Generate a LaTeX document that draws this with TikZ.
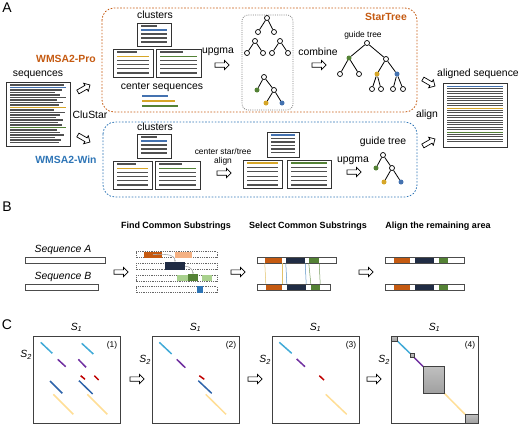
\documentclass[tikz,border=0pt]{standalone}
\usepackage{fontspec}
\setmainfont{Liberation Sans}
\usetikzlibrary{shapes.arrows, arrows.meta}

\definecolor{proorange}{RGB}{197,90,17}
\definecolor{winblue}{RGB}{46,117,182}
\definecolor{seqblue}{RGB}{68,114,176}
\definecolor{seqyellow}{RGB}{214,166,40}
\definecolor{seqgreen}{RGB}{84,130,53}
\definecolor{seqgray}{RGB}{80,80,80}
\definecolor{lightorange}{RGB}{244,177,131}
\definecolor{navy}{RGB}{32,44,68}
\definecolor{lightgreen}{RGB}{169,209,142}
\definecolor{dotcyan}{RGB}{65,170,215}
\definecolor{dotpurple}{RGB}{112,48,160}
\definecolor{dotred}{RGB}{192,0,0}
\definecolor{dotblue}{RGB}{46,100,170}
\definecolor{dotyellow}{RGB}{255,222,150}

\tikzset{
  lbl/.style={font=\fontsize{10.4}{12}\selectfont, inner sep=0pt},
  smalllbl/.style={font=\fontsize{8.4}{10}\selectfont, inner sep=0pt},
  headlbl/.style={font=\fontsize{9}{11}\selectfont\bfseries, inner sep=0pt},
  panellbl/.style={font=\fontsize{14}{16}\selectfont, inner sep=0pt},
  fatarrow/.style={single arrow, draw=black, line width=0.7pt, fill=white,
    minimum height=14pt, inner xsep=0pt, inner ysep=1.8pt, single arrow head extend=2.5pt},
  docbox/.style={draw=black!80, line width=0.8pt, fill=white},
  seqline/.style={seqgray, line width=1.1pt},
  dashbox/.style={rounded corners=12pt, line width=0.8pt, dash pattern=on 1.6pt off 1.6pt},
  tnode/.style={circle, draw=black, line width=0.7pt, fill=white, minimum size=5pt, inner sep=0pt},
  cnode/.style={circle, minimum size=5pt, inner sep=0pt},
  tedge/.style={line width=0.8pt},
  blk/.style={rectangle, inner sep=0pt, minimum height=6pt},
  barbox/.style={draw=black!70, line width=0.8pt},
  lnk/.style={line width=0.5pt},
  dotbox/.style={draw=black!75, line width=1pt},
  seg/.style={line width=1.5pt},
  cellsq/.style={draw=black!75, line width=0.7pt, top color=gray!50, bottom color=gray!75}
}

\begin{document}
\begin{tikzpicture}[x=1pt,y=-1pt]
  \useasboundingbox (0,0) rectangle (520,424);

  % Paneles
  \node[panellbl] (pa) at (7,8) {A};
  \node[panellbl] (pb) at (7,207) {B};
  \node[panellbl] (pc) at (7,325) {C};

  % Cajas de StarTree y WMSA2-Win
  \draw[dashbox, proorange] (102,8) rectangle (417,112);
  \draw[dashbox, winblue] (103,122) rectangle (417,197);
  \draw[rounded corners=6pt, gray, line width=0.7pt, dash pattern=on 1pt off 1.2pt] (242,15) rectangle (293,110);
  \node[lbl, font=\fontsize{10.4}{12}\selectfont\bfseries, text=proorange] (star) at (386,17) {StarTree};
  \node[lbl, font=\fontsize{10.4}{12}\selectfont\bfseries, text=proorange] (pro) at (66,59) {WMSA2-Pro};
  \node[lbl, font=\fontsize{10.4}{12}\selectfont\bfseries, text=winblue] (win) at (66,160) {WMSA2-Win};

  % Secuencias de entrada
  \node[lbl] (seqlbl) at (38,75) {sequences};
  \draw[docbox] (6,82) rectangle (70,146);
  \foreach \e [count=\i from 0] in {64,66,62,55,60,66,57,63,59,66,54,65,60,56,63,58,62,66,57,60,64,55,61,59}
    \draw[seqline] (10,85+2.5*\i) -- (\e,85+2.5*\i);
  \draw[seqline, seqblue] (10,87.5) -- (66,87.5);
  \draw[seqline, seqyellow] (10,107.5) -- (66,107.5);
  \draw[seqline, seqgreen] (10,127.5) -- (66,127.5);
  \node[lbl] (clustar) at (90,115) {CluStar};

  % Documentos de clusters
  \foreach \xa/\ya/\xb/\yb/\col/\s/\d/\n in {
      137/23/171/46/seqblue/1/4/3, 113/49/153/77/seqyellow/1/4.2/4, 156/49/201/77/seqgreen/1/4.2/4,
      137/134/171/158/seqblue/1/4/3, 113/161/152/189/seqyellow/1/4.2/4, 155/161/200/189/seqgreen/1/4.2/4,
      267/132/299/157/seqblue/0/3.5/5, 243/160/282/188/seqyellow/0/4.4/5, 287/160/331/188/seqgreen/0/4.4/5} {
    \draw[docbox] (\xa,\ya) rectangle (\xb,\yb);
    \draw[seqline] (\xa+4,\ya+3) -- ({\xb-0.4*(\xb-\xa)},\ya+3);
    \draw[seqline, \col] (\xa+4,\ya+3+\s*\d) -- (\xb-4,\ya+3+\s*\d);
    \foreach \k in {1,...,\n}
      \draw[seqline] (\xa+4,\ya+3+\s*\d+\k*\d) -- (\xb-4,\ya+3+\s*\d+\k*\d);
  }

  % WMSA2-Pro
  \node[lbl] (cluspro) at (155,15) {clusters};
  \node[lbl] (centers) at (162,87) {center sequences};
  \draw[seqline, seqblue] (142,96) -- (168,96);
  \draw[seqline, seqyellow] (142,101) -- (175,101);
  \draw[seqline, seqgreen] (142,106) -- (178,106);
  \node[lbl] (upgmapro) at (218,52) {upgma};
  \node[lbl] (combine) at (318,52) {combine};
  \node[smalllbl] (guidepro) at (363,35) {guide tree};

  % WMSA2-Win
  \node[lbl] (cluswin) at (155,127) {clusters};
  \node[smalllbl] (cstar) at (223,151) {center star/tree};
  \node[smalllbl] (calign) at (223,161) {align};
  \node[lbl] (guidewin) at (383,142) {guide tree};
  \node[lbl] (upgmawin) at (353,161) {upgma};

  % Arboles
  \foreach \nm/\px/\py in {ta0/267/18, ta1/258/32, ta2/274/32, tb0/255/41, tb1/247/53, tb2/263/53,
      tc0/280/41, tc1/272/53, tc2/288/53, td0/264/77, td2/274/90,
      g0/367/43, g2/386/59, g3/340/74, g4/359/74, g7/372/89, g8/381/89, g9/393/89, g10/403/89,
      w0/383/155, w2/392/168}
    \node[tnode] (\nm) at (\px,\py) {};
  \foreach \nm/\px/\py/\fc in {td1/257/90/seqgreen, td3/266/103/seqyellow, td4/282/103/seqblue,
      g1/349/58/seqgreen, g5/377/74/seqyellow, g6/397/74/seqblue,
      w1/376/168/seqgreen, w3/384/182/seqyellow, w4/401/182/seqblue}
    \node[cnode, fill=\fc] (\nm) at (\px,\py) {};
  \foreach \a/\b in {ta0/ta1, ta0/ta2, tb0/tb1, tb0/tb2, tc0/tc1, tc0/tc2, td0/td1, td0/td2, td2/td3, td2/td4,
      g0/g1, g0/g2, g1/g3, g1/g4, g2/g5, g2/g6, g5/g7, g5/g8, g6/g9, g6/g10, w0/w1, w0/w2, w2/w3, w2/w4}
    \draw[tedge] (\a) -- (\b);

  % Secuencia alineada
  \node[lbl] (alignedlbl) at (478,74) {aligned sequence};
  \draw[docbox] (443,83) rectangle (507,147);
  \foreach \i in {0,...,23}
    \draw[seqline] (447,86.5+2.4*\i) -- (503,86.5+2.4*\i);
  \draw[seqline, seqblue] (447,86.5) -- (503,86.5);
  \draw[seqline, seqyellow] (447,108.1) -- (503,108.1);
  \draw[seqline, seqgreen] (447,132.1) -- (503,132.1);
  \node[lbl] (alignlbl) at (427,115) {align};

  % Flechas del panel A
  \node[fatarrow, rotate=30] (ar1) at (83,89) {};
  \node[fatarrow, rotate=-30] (ar2) at (83,138) {};
  \node[fatarrow] (ar3) at (221,65) {};
  \node[fatarrow] (ar4) at (318,65) {};
  \node[fatarrow, rotate=-30] (ar5) at (428,82) {};
  \node[fatarrow, rotate=30] (ar6) at (428,143) {};
  \node[fatarrow] (ar7) at (223,173) {};
  \node[fatarrow] (ar8) at (353,172) {};

  % Panel B
  \node[headlbl] (hfind) at (176,226) {Find Common Substrings};
  \node[headlbl] (hsel) at (308,226) {Select Common Substrings};
  \node[headlbl] (halign) at (438,226) {Align the remaining area};
  \node[lbl, font=\fontsize{10.4}{12}\selectfont\itshape] (sqa) at (63,250) {Sequence A};
  \node[lbl, font=\fontsize{10.4}{12}\selectfont\itshape] (sqb) at (63,277) {Sequence B};
  \draw[barbox] (25,257) rectangle (105,263);
  \draw[barbox] (25,284) rectangle (98,290);

  % Buscar subcadenas
  \foreach \yc in {254.5,266.2,277.9,289.6}
    \draw[draw=gray!80!black, line width=0.6pt, dash pattern=on 1pt off 0.8pt] (136,\yc-3) rectangle (217,\yc+3);
  \node[blk, fill=proorange, minimum width=18pt] (fo1) at (153,254.5) {};
  \node[blk, fill=lightorange, minimum width=17pt] (fo2) at (183.5,254.5) {};
  \node[blk, fill=navy, minimum width=20pt, minimum height=8pt] (fn) at (175,266.2) {};
  \node[blk, fill=lightgreen, minimum width=11pt] (fg1) at (182.5,277.9) {};
  \node[blk, fill=seqgreen, minimum width=10pt, minimum height=7pt] (fg2) at (193,277.9) {};
  \node[blk, fill=lightgreen, minimum width=10pt] (fg3) at (207,277.9) {};
  \node[blk, fill=winblue, minimum width=6pt, minimum height=7pt] (fb) at (200,289.6) {};
  \draw[gray!70, line width=0.6pt, -{Stealth[length=2pt]}] (fo1.center) to[out=0,in=90] (fn.north);
  \draw[gray!70, line width=0.6pt, -{Stealth[length=2pt]}] (fn.east) to[out=0,in=90] (fg2.north);

  % Seleccionar subcadenas
  \node[blk, fill=proorange, minimum width=17pt] (so1) at (273.5,260) {};
  \node[blk, fill=navy, minimum width=19pt] (sn1) at (295.5,260) {};
  \node[blk, fill=seqgreen, minimum width=10pt] (sg1) at (314,260) {};
  \node[blk, fill=proorange, minimum width=16pt] (so2) at (274,287) {};
  \node[blk, fill=navy, minimum width=19pt] (sn2) at (296.5,287) {};
  \node[blk, fill=seqgreen, minimum width=9pt] (sg2) at (315.5,287) {};
  \draw[barbox] (257,257) rectangle (336,263);
  \draw[barbox] (257,284) rectangle (330,290);
  \draw[lnk, seqyellow!70] (so1.south west) -- (so2.north west);
  \draw[lnk, seqyellow!70] (so1.south east) -- (so2.north east);
  \draw[lnk, winblue!80] (sn1.south west) -- (sn2.north west);
  \draw[lnk, winblue!80] (sn1.south east) -- (sn2.north east);
  \draw[lnk, seqgreen!80] (sg1.south west) -- (sg2.north west);
  \draw[lnk, seqgreen!80] (sg1.south east) -- (sg2.north east);

  % Alinear el resto
  \foreach \yc/\t in {260/t,287/b} {
    \node[blk, fill=proorange, minimum width=16pt] (ao\t) at (402,\yc) {};
    \node[blk, fill=navy, minimum width=19pt] (an\t) at (424.5,\yc) {};
    \node[blk, fill=seqgreen, minimum width=9pt] (ag\t) at (443.5,\yc) {};
    \draw[barbox] (385,\yc-3) rectangle (464,\yc+3);
  }

  % Flechas del panel B
  \node[fatarrow] (br1) at (120,272) {};
  \node[fatarrow] (br2) at (237,272) {};
  \node[fatarrow] (br3) at (365,272) {};

  % Panel C - matrices
  \foreach \bx/\sy [count=\b] in {33/355,152/360,272/360,391/360} {
    \draw[dotbox] (\bx,336) rectangle +(87,87);
    \node[lbl] (sone\b) at (\bx+43.5,327.5) {\textit{S}\textsubscript{\textit{1}}};
    \node[lbl, anchor=east] (stwo\b) at (\bx-1,\sy) {\textit{S}\textsubscript{\textit{2}}};
    \node[smalllbl] (num\b) at (\bx+79,345) {(\b)};
  }

  % Matriz (1)
  \begin{scope}[shift={(33,336)}]
    \draw[seg, dotcyan] (7.7,6.3) -- (19.3,17.3);
    \draw[seg, dotcyan] (48.7,7.3) -- (60.3,18);
    \draw[seg, dotpurple] (24.7,23.3) -- (32.7,30.7);
    \draw[seg, dotpurple] (45.3,23.3) -- (53,31.3);
    \draw[seg, dotred] (47.7,39.7) -- (52,43.3);
    \draw[seg, dotred] (61.3,39.7) -- (65.7,44);
    \draw[seg, dotblue] (17,45) -- (29.3,57.3);
    \draw[seg, dotblue] (46,44.7) -- (59.7,58);
    \draw[seg, dotyellow] (20.3,58.3) -- (40.3,78.3);
    \draw[seg, dotyellow] (54.3,58.3) -- (74.3,78.3);
  \end{scope}

  % Matriz (2)
  \begin{scope}[shift={(152,336)}]
    \draw[seg, dotcyan] (7.3,6.3) -- (19.7,18);
    \draw[seg, dotpurple] (24.7,23.3) -- (33.3,31.7);
    \draw[seg, dotred] (47.3,39.7) -- (52.3,43.3);
    \draw[seg, dotblue] (46.3,44.7) -- (59.7,57.3);
    \draw[seg, dotyellow] (53.7,58.3) -- (74,78.3);
  \end{scope}

  % Matriz (3)
  \begin{scope}[shift={(272,336)}]
    \draw[seg, dotcyan] (7.3,6.3) -- (19.7,17.3);
    \draw[seg, dotpurple] (24.7,23) -- (33,30.7);
    \draw[seg, dotred] (47.3,39.7) -- (52,44);
    \draw[seg, dotyellow] (53.7,58.3) -- (74.7,78.3);
  \end{scope}

  % Matriz (4)
  \begin{scope}[shift={(391,336)}]
    \draw[seg, dotcyan] (6.3,5) -- (19,17.3);
    \draw[seg, dotpurple] (23.3,21.7) -- (32.3,30.7);
    \draw[seg, dotyellow] (53.3,57.3) -- (74,78.3);
    \draw[cellsq] (0,0) rectangle (6.3,5);
    \draw[cellsq] (19,17.3) rectangle (23.3,21.7);
    \draw[cellsq] (32.3,30.7) rectangle (53.3,57.3);
    \draw[cellsq] (74,78.3) rectangle (87,87);
  \end{scope}

  % Flechas del panel C
  \node[fatarrow] (cr1) at (136,379) {};
  \node[fatarrow] (cr2) at (254,379) {};
  \node[fatarrow] (cr3) at (373,379) {};
\end{tikzpicture}
\end{document}
